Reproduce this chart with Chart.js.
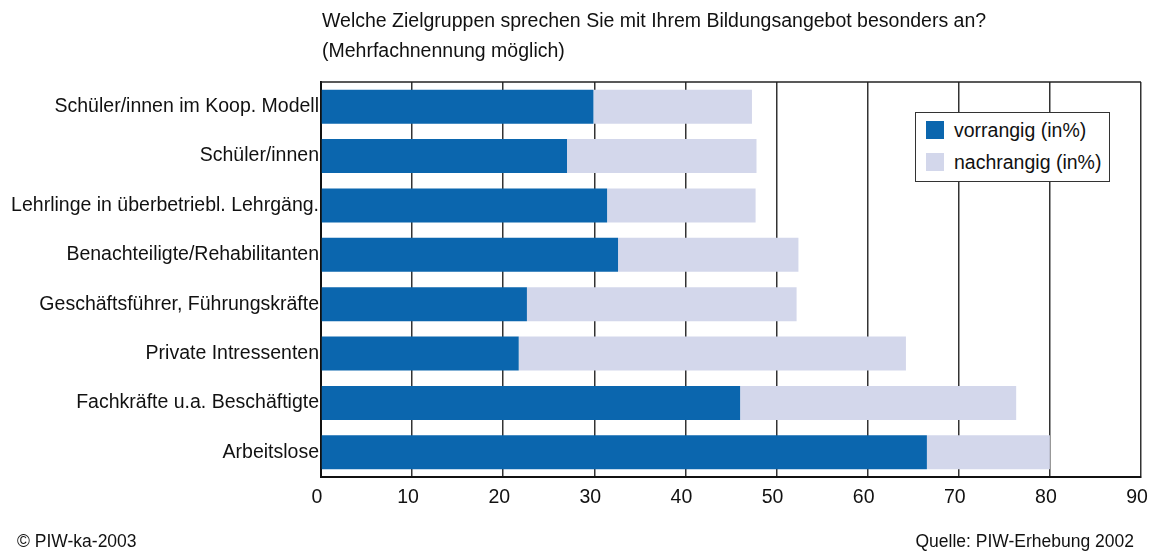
<!DOCTYPE html>
<html>
<head>
<meta charset="utf-8">
<script src="https://cdn.jsdelivr.net/npm/chart.js@4/dist/chart.umd.min.js"></script>
<style>
  html, body { margin: 0; padding: 0; background: #fff; }
  #wrap { position: relative; width: 1151px; height: 551px; font-family: "Liberation Sans", Arial, sans-serif; color: #111; }
  #c { position: absolute; left: 0; top: 0; }
  .txt { position: absolute; font-size: 19.5px; line-height: 30px; white-space: nowrap; }
  .foot { position: absolute; font-size: 17.5px; line-height: 30px; white-space: nowrap; }
  #legend { position: absolute; left: 915px; top: 112px; width: 195px; height: 70px; border: 1px solid #333; background: #fff; box-sizing: border-box; }
  .li { position: absolute; left: 10px; height: 20px; font-size: 19.5px; line-height: 20px; white-space: nowrap; }
  .sw { display: inline-block; width: 18px; height: 18px; vertical-align: top; margin-top: 1px; margin-right: 10px; }
</style>
</head>
<body>
<div id="wrap">
  <canvas id="c" width="1151" height="551"></canvas>
  <div class="txt" style="left:322px; top:5px;">Welche Zielgruppen sprechen Sie mit Ihrem Bildungsangebot besonders an?</div>
  <div class="txt" style="left:322px; top:35px;">(Mehrfachnennung möglich)</div>
  <div class="foot" style="left:17px; top:526px;">© PIW-ka-2003</div>
  <div class="foot" style="right:17px; top:526px;">Quelle: PIW-Erhebung 2002</div>
  <div id="legend"></div>
</div>
<script>
const categories = [
  "Schüler/innen im Koop. Modell",
  "Schüler/innen",
  "Lehrlinge in überbetriebl. Lehrgäng.",
  "Benachteiligte/Rehabilitanten",
  "Geschäftsführer, Führungskräfte",
  "Private Intressenten",
  "Fachkräfte u.a. Beschäftigte",
  "Arbeitslose"
];
const vorrangig = [29.9, 27.0, 31.4, 32.6, 22.6, 21.7, 46.0, 66.5];
const nachrangig = [17.4, 20.8, 16.3, 19.8, 29.6, 42.5, 30.3, 13.5];
const seriesNames = ["vorrangig (in%)", "nachrangig (in%)"];
const xTicks = [0, 10, 20, 30, 40, 50, 60, 70, 80, 90];

const colors = ["#0B66AE", "#D3D7EB"];
const FONT = "'Liberation Sans', Arial, sans-serif";

const frame = {
  id: 'frame',
  afterDraw(chart) {
    const a = chart.chartArea, ctx = chart.ctx;
    ctx.save();
    ctx.strokeStyle = '#222';
    ctx.lineWidth = 1.5;
    ctx.beginPath();
    ctx.moveTo(a.left, a.top);
    ctx.lineTo(a.right, a.top);
    ctx.stroke();
    ctx.restore();
  }
};

const chart = new Chart(document.getElementById('c'), {
  type: 'bar',
  data: {
    labels: categories,
    datasets: [
      { label: seriesNames[0], data: vorrangig, backgroundColor: colors[0], borderWidth: 0 },
      { label: seriesNames[1], data: nachrangig, backgroundColor: colors[1], borderWidth: 0 }
    ]
  },
  options: {
    indexAxis: 'y',
    responsive: false,
    animation: false,
    events: [],
    layout: { padding: { left: 0, right: 2, top: 82, bottom: 0 } },
    datasets: { bar: { categoryPercentage: 1.0, barPercentage: 0.69 } },
    plugins: { legend: { display: false }, tooltip: { enabled: false }, title: { display: false } },
    scales: {
      x: {
        stacked: true,
        min: 0, max: 90,
        afterBuildTicks(scale) { scale.ticks = xTicks.map(v => ({ value: v })); },
        afterFit(scale) { scale.height = 74; scale.paddingRight = 10; scale.paddingLeft = 0; },
        grid: { color: '#333', lineWidth: 1.5, drawTicks: false },
        border: { display: true, color: '#111', width: 2 },
        ticks: { color: '#111', font: { family: FONT, size: 19.5 }, padding: 9, maxRotation: 0, labelOffset: -4 }
      },
      y: {
        stacked: true,
        afterFit(scale) { scale.width = 321; },
        grid: { display: false, drawTicks: false },
        border: { display: true, color: '#111', width: 2 },
        ticks: { color: '#111', font: { family: FONT, size: 19.5 }, padding: 2, autoSkip: false }
      }
    }
  },
  plugins: [frame]
});

// legend built from dataset definitions
const leg = document.getElementById('legend');
chart.data.datasets.forEach((ds, i) => {
  const d = document.createElement('div');
  d.className = 'li';
  d.style.top = (7 + i * 32) + 'px';
  const sw = document.createElement('span');
  sw.className = 'sw';
  sw.style.background = ds.backgroundColor;
  d.appendChild(sw);
  d.appendChild(document.createTextNode(ds.label));
  leg.appendChild(d);
});
</script>
</body>
</html>
